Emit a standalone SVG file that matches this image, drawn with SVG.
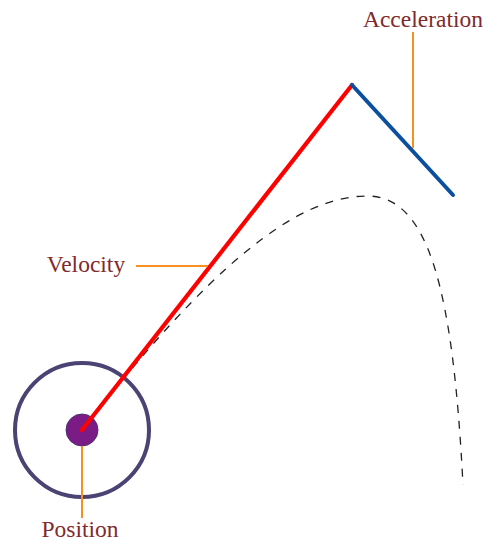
<svg xmlns="http://www.w3.org/2000/svg" width="487" height="542" viewBox="0 0 487 542">
<style>
.lbl{font-family:"Liberation Serif",serif;font-size:23.5px;fill:#7f2a2c;text-anchor:middle}
.lead{stroke:#f7901e;stroke-width:2;fill:none}
</style>
<rect width="487" height="542" fill="#ffffff"/>
<g id="path-trace">
<path d="M82,430 C209,268 295,196 367,196 C429,196 453,290 463,485" fill="none" stroke="#222" stroke-width="1.3" stroke-dasharray="8,8"/>
</g>
<g id="orbit">
<circle cx="82" cy="430" r="67" fill="none" stroke="#4a4373" stroke-width="4"/>
</g>
<g id="position">
<circle cx="82" cy="430" r="16" fill="#7b1b86" stroke="#4e3470" stroke-width="1"/>
</g>
<g id="connectors">
<line id="velocity" x1="82" y1="430" x2="352" y2="85" stroke="#ff0000" stroke-width="4.2" stroke-linecap="round"/>
<line id="acceleration" x1="352" y1="85" x2="453" y2="195" stroke="#0c4f9f" stroke-width="4" stroke-linecap="round"/>
<line class="lead" x1="82" y1="446" x2="82" y2="518"/>
<line class="lead" x1="136" y1="266" x2="208" y2="266"/>
<line class="lead" x1="413" y1="32" x2="413" y2="148"/>
</g>
<g id="label-position"><text class="lbl" x="80" y="537">Position</text></g>
<g id="label-velocity"><text class="lbl" x="86" y="272">Velocity</text></g>
<g id="label-acceleration"><text class="lbl" x="423" y="27">Acceleration</text></g>
</svg>
